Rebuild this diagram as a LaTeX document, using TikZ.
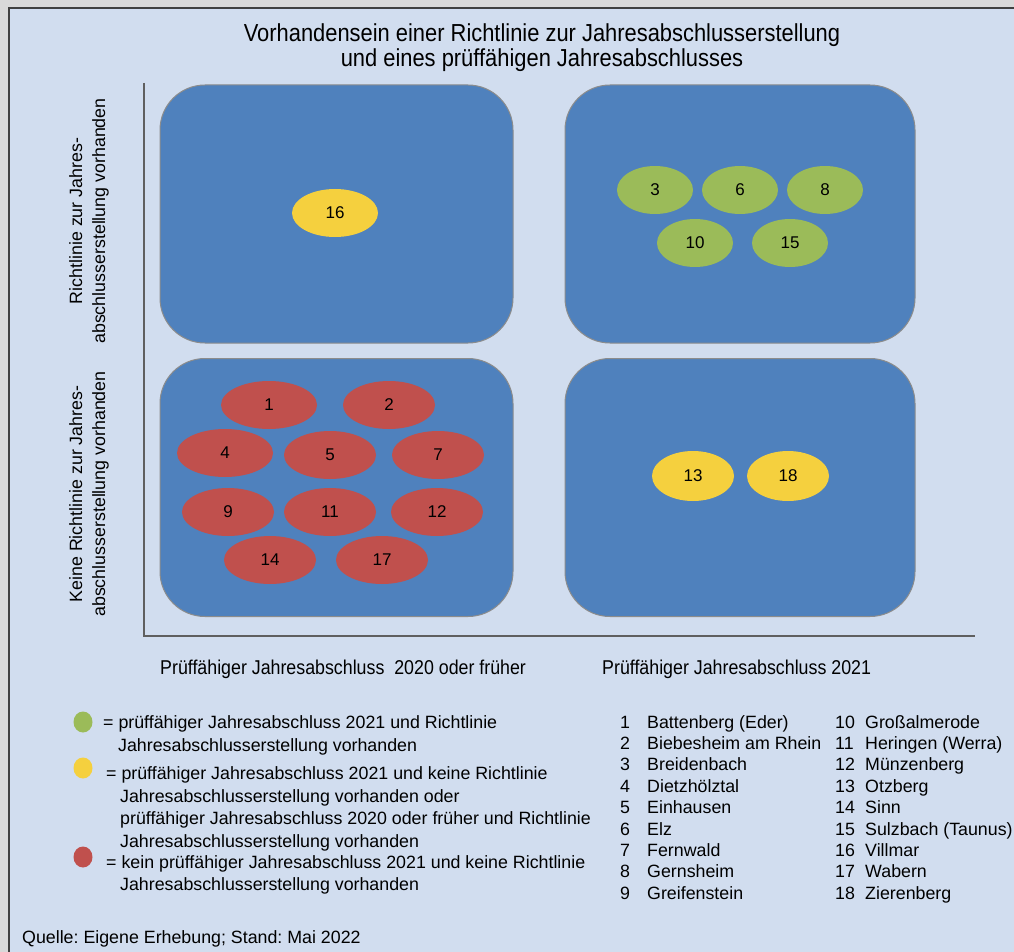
\documentclass[tikz,border=0pt]{standalone}
\usepackage{fontspec}
\setmainfont{Liberation Sans}
\newfontfamily\narrowfont[FakeStretch=0.89]{Liberation Sans}
\usetikzlibrary{shapes.geometric}
\frenchspacing
\definecolor{outerbg}{HTML}{D9D9D9}
\definecolor{panelbg}{HTML}{D1DDEF}
\definecolor{panelline}{HTML}{404040}
\definecolor{boxfill}{HTML}{4F81BD}
\definecolor{boxline}{HTML}{8C8C8C}
\definecolor{axisline}{HTML}{5F5F5F}
\definecolor{elgreen}{HTML}{9BBB59}
\definecolor{elyellow}{HTML}{F5D03E}
\definecolor{elred}{HTML}{C0504D}
\tikzset{
  quad/.style={draw=boxline, line width=1pt, fill=boxfill, rounded corners=45pt,
    minimum width=353pt, minimum height=258pt, inner sep=0pt},
  ell/.style={ellipse, inner sep=0pt, minimum height=48pt, font=\fontsize{17}{20}\selectfont},
  elg/.style={ell, fill=elgreen, minimum width=76pt},
  ely/.style={ell, fill=elyellow, minimum width=86pt},
  elr/.style={ell, fill=elred, minimum width=92pt},
  txt/.style={inner sep=0pt, anchor=base west, font=\fontsize{17.8}{21.4}\selectfont},
  ttl/.style={inner sep=0pt, font=\narrowfont\fontsize{24.6}{25}\selectfont},
  xlab/.style={inner sep=0pt, anchor=base west, font=\narrowfont\fontsize{20}{22}\selectfont},
  ylab/.style={inner sep=0pt, rotate=90, align=center, font=\fontsize{17.8}{23}\selectfont},
  dot/.style={ellipse, inner sep=0pt, minimum width=19pt, minimum height=21pt},
}
\begin{document}
\begin{tikzpicture}[x=1pt,y=-1pt]
\useasboundingbox (0,0) rectangle (1014,952);
\fill[outerbg] (0,0) rectangle (1014,952);
\fill[panelbg] (9,8) rectangle (1014,952);
\draw[panelline, line width=2pt] (9,952) -- (9,8) -- (1014,8);

% title
\node[ttl] (t1) at (542,35) {Vorhandensein einer Richtlinie zur Jahresabschlusserstellung};
\node[ttl] (t2) at (542,60) {und eines prüffähigen Jahresabschlusses};

% axes
\coordinate (axtop) at (144,83);
\coordinate (axorig) at (144,636);
\coordinate (axright) at (975,636);
\draw[axisline, line width=1.5pt] (axtop) -- (axorig) -- (axright);

% quadrants
\node[quad] (tl) at (336.5,214) {};
\node[quad, minimum width=350pt] (tr) at (740,214) {};
\node[quad] (bl) at (336.5,487.5) {};
\node[quad, minimum width=350pt] (br) at (740,487.5) {};

% ellipses
\node[ely] (e16) at (335,213) {16};
\node[elg] (e3) at (655,190) {3};
\node[elg] (e6) at (740,190) {6};
\node[elg] (e8) at (825,190) {8};
\node[elg] (e10) at (695,243) {10};
\node[elg] (e15) at (790,243) {15};
\node[elr, minimum width=96pt] (e1) at (269,405) {1};
\node[elr] (e2) at (389,405) {2};
\node[elr, minimum width=96pt] (e4) at (225,453) {4};
\node[elr] (e5) at (330,455) {5};
\node[elr] (e7) at (438,455) {7};
\node[elr] (e9) at (228,512) {9};
\node[elr] (e11) at (330,512) {11};
\node[elr] (e12) at (437,512) {12};
\node[elr] (e14) at (270,560) {14};
\node[elr] (e17) at (382,560) {17};
\node[ely, minimum width=82pt, minimum height=50pt] (e13) at (693,476) {13};
\node[ely, minimum width=82pt, minimum height=50pt] (e18) at (788,476) {18};

% y labels
\node[ylab] (yl1) at (89,221) {Richtlinie zur Jahres-\\abschlusserstellung vorhanden};
\node[ylab] (yl2) at (89,494) {Keine Richtlinie zur Jahres-\\abschlusserstellung vorhanden};

% x labels
\node[xlab] (xl1) at (160,674) {Prüffähiger Jahresabschluss\ \ 2020 oder früher};
\node[xlab] (xl2) at (602,674) {Prüffähiger Jahresabschluss 2021};

% legend
\node[dot, fill=elgreen] (dg) at (83,722) {};
\node[dot, fill=elyellow] (dy) at (83,768) {};
\node[dot, fill=elred] (dr) at (83,857) {};
\node[txt] (lg1) at (103,728) {= prüffähiger Jahresabschluss 2021 und Richtlinie};
\node[txt] (lg2) at (118,751) {Jahresabschlusserstellung vorhanden};
\node[txt] (ly1) at (106,779) {= prüffähiger Jahresabschluss 2021 und keine Richtlinie};
\node[txt] (ly2) at (120,802) {Jahresabschlusserstellung vorhanden oder};
\node[txt] (ly3) at (120,824) {prüffähiger Jahresabschluss 2020 oder früher und Richtlinie};
\node[txt] (ly4) at (120,847) {Jahresabschlusserstellung vorhanden};
\node[txt] (lr1) at (106,868) {= kein prüffähiger Jahresabschluss 2021 und keine Richtlinie};
\node[txt] (lr2) at (120,890) {Jahresabschlusserstellung vorhanden};

% list
\foreach \n/\name [count=\i from 0] in {1/Battenberg (Eder),2/Biebesheim am Rhein,3/Breidenbach,4/Dietzhölztal,5/Einhausen,6/Elz,7/Fernwald,8/Gernsheim,9/Greifenstein}{
  \node[txt] (ln\n) at (620,728+21.4*\i) {\n};
  \node[txt] (lt\n) at (647,728+21.4*\i) {\name};
}
\foreach \n/\name [count=\i from 0] in {10/Großalmerode,11/Heringen (Werra),12/Münzenberg,13/Otzberg,14/Sinn,15/Sulzbach (Taunus),16/Villmar,17/Wabern,18/Zierenberg}{
  \node[txt] (ln\n) at (835,728+21.4*\i) {\n};
  \node[txt] (lt\n) at (865,728+21.4*\i) {\name};
}

\node[txt] (src) at (22,943) {Quelle: Eigene Erhebung; Stand: Mai 2022};
\end{tikzpicture}
\end{document}
